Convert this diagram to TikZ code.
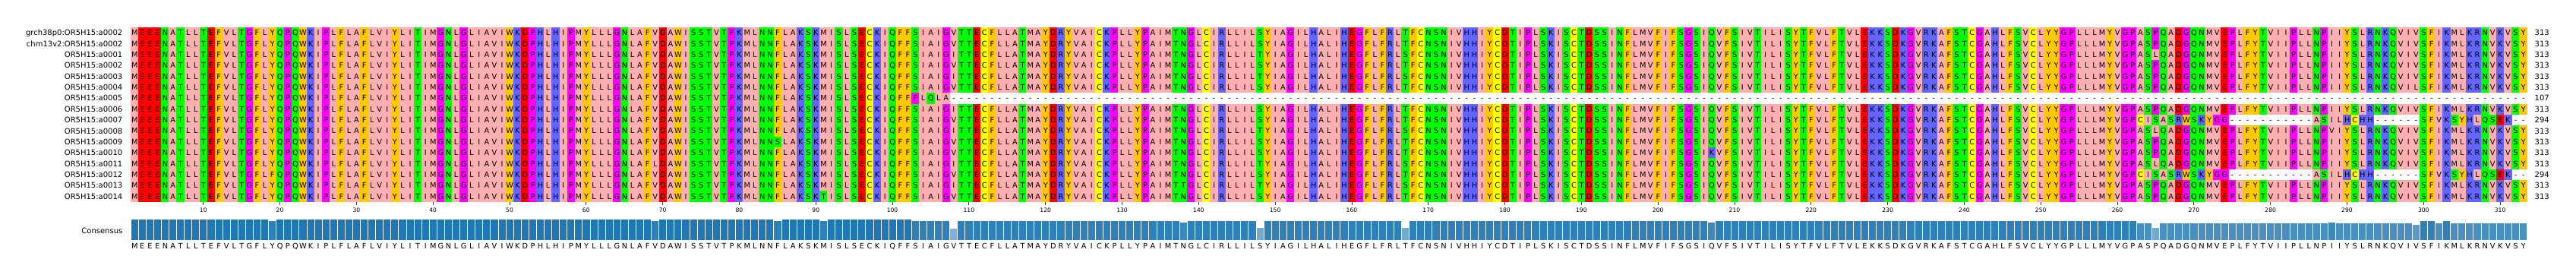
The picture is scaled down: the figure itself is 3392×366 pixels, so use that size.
\documentclass[tikz,border=0pt]{standalone}
\usepackage{fontspec}
\setmainfont{DejaVu Sans}
\usepackage{tikz}

% Zappo residue colours
\definecolor{zpAliph}{RGB}{255,175,175}
\definecolor{zpArom}{RGB}{255,200,0}
\definecolor{zpPos}{RGB}{100,100,255}
\definecolor{zpNeg}{RGB}{255,0,0}
\definecolor{zpPolar}{RGB}{0,255,0}
\definecolor{zpConf}{RGB}{255,0,255}
\definecolor{zpCys}{RGB}{255,255,0}
\definecolor{consblue}{RGB}{31,119,180}
\def\setcls#1#2{\expandafter\def\csname cls@#1\endcsname{#2}}
\setcls I{Aliph}\setcls L{Aliph}\setcls V{Aliph}\setcls A{Aliph}\setcls M{Aliph}
\setcls F{Arom}\setcls W{Arom}\setcls Y{Arom}
\setcls K{Pos}\setcls R{Pos}\setcls H{Pos}
\setcls D{Neg}\setcls E{Neg}
\setcls S{Polar}\setcls T{Polar}\setcls N{Polar}\setcls Q{Polar}
\setcls P{Conf}\setcls G{Conf}
\setcls C{Cys}
\setcls -{gap}
\def\gapcls{gap}

% grid of the alignment (px)
\def\cw{10.081}
\def\rh{14.36}
\def\xo{172}
\def\yo{36}
\newcount\colnum
\newcount\runcol
\newcount\runstart

% consensus sequence
\def\conseq{MEEENATLLT EFVLTGFLYQ PQWKIPLFLA FLVIYLITIM GNLGLIAVIW
  KDPHLHIPMY LLLGNLAFVD AWISSTVTPK MLNNFLAKSK MISLSECKIQ
  FFSIAIGVTT ECFLLATMAY DRYVAICKPL LYPAIMTNGL CIRLLILSYI
  AGILHALIHE GFLFRLTFCN SNIVHHIYCD TIPLSKISCT DSSINFLMVF
  IFSGSIQVFS IVTILISYTF VLFTVLEKKS DKGVRKAFST CGAHLFSVCL
  YYGPLLLMYV GPASPQADGQ NMVEPLFYTV IIPLLNPIIY SLRNKQVIVS
  FIKMLKRNVK VSY}

% differences to the consensus: \setrun{row}{first column}{residues}
\def\runread#1{\ifx\relax#1\else
  \expandafter\xdef\csname alt\runrow:\the\runcol\endcsname{#1}%
  \global\advance\runcol by 1
  \expandafter\runread\fi}
\newcommand\setrun[3]{\def\runrow{#1}\global\runcol=#2\relax\runread#3\relax}
\newcommand\setgap[3]{\foreach \c in {#2,...,#3}{%
  \expandafter\xdef\csname alt#1:\c\endcsname{-}}}

% residue of the current row at the current column
\newcommand\pickres[1]{%
  \ifcsname alt\rowid:\the\colnum\endcsname
    \edef\resch{\csname alt\rowid:\the\colnum\endcsname}%
  \else
    \def\resch{#1}%
  \fi}

% pass 1: background runs of one colour class
\def\readfill#1{\ifx\relax#1\else\putfill{#1}\expandafter\readfill\fi}
\newcommand\putfill[1]{%
  \global\advance\colnum by 1
  \pickres{#1}%
  \edef\thiscls{\csname cls@\resch\endcsname}%
  \ifx\thiscls\curcls\else
    \flushrun
    \global\let\curcls\thiscls
    \global\runstart=\colnum
  \fi}
\newcommand\flushrun{%
  \ifx\curcls\gapcls\else\ifx\curcls\empty\else
    \fill[zp\curcls] ({\xo+(\the\runstart-1)*\cw},\rowtop)
      rectangle ({\xo+(\the\colnum-1)*\cw+0.3},\rowtop+\rh+0.3);
  \fi\fi}

% pass 2: residue letters, one fixed-width box each
\def\readres#1{\ifx\relax#1\else\putres{#1}\expandafter\readres\fi}
\newcommand\putres[1]{%
  \global\advance\colnum by 1
  \pickres{#1}%
  \hbox to \cw pt{\hss\resch\hss}}

\newcommand\seqrow[1]{%
  \edef\rowid{#1}%
  \pgfmathsetmacro\rowtop{\yo+(#1-1)*\rh}%
  \global\colnum=0
  \global\let\curcls\empty
  \expandafter\readfill\conseq\relax
  \global\advance\colnum by 1
  \flushrun
  \node[seqtext] (row#1) at (\xo,\rowtop+\rh/2)
    {\global\colnum=0 \expandafter\readres\conseq\relax};}

% consensus letters
\def\readcons#1{\ifx\relax#1\else\hbox to \cw pt{\hss#1\hss}\expandafter\readcons\fi}

\setrun{3}{108}{I}\setrun{3}{148}{T}\setrun{3}{167}{S}\setrun{3}{265}{L}
\setrun{5}{108}{I}\setrun{5}{148}{T}\setrun{5}{167}{S}
\setrun{6}{299}{L}
\setrun{7}{103}{PLQLA}\setgap{7}{108}{313}
\setrun{8}{108}{I}
\setrun{9}{263}{CISASRWSKYGG-----------ASILHCHH------SFVKSYHLQSEK--}
\setrun{10}{108}{I}\setrun{10}{148}{T}\setrun{10}{167}{S}\setrun{10}{265}{L}\setrun{10}{288}{V}
\setrun{11}{85}{S}
\setrun{12}{207}{K}
\setrun{13}{69}{L}\setrun{13}{108}{I}\setrun{13}{148}{T}\setrun{13}{167}{S}\setrun{13}{265}{L}
\setrun{14}{19}{F}
\setrun{14}{263}{CISASRWSKYGG-----------ASILHCHH------SFVKSYHLQSEK--}
\setrun{15}{108}{I}\setrun{15}{138}{T}\setrun{15}{148}{T}\setrun{15}{167}{S}
\setrun{16}{91}{T}

\begin{document}
\begin{tikzpicture}[x=1pt, y=-1pt,
    seqtext/.style={anchor=west, inner sep=0pt, text height=7.1pt, text depth=0pt,
                    font=\fontsize{9.8}{10}\selectfont},
    seqlab/.style={anchor=east, inner sep=0pt, text height=7.3pt, text depth=0pt,
                   font=\fontsize{10}{12}\selectfont},
    lennum/.style={anchor=west, inner sep=0pt, text height=7.3pt, text depth=0pt,
                   font=\fontsize{10}{12}\selectfont},
    ticklab/.style={inner sep=0pt, font=\fontsize{7.6}{9}\selectfont},
    bar/.style={draw=white, line width=0.7pt}
  ]
    \useasboundingbox (0,0) rectangle (3392,366);

    % Sequence names
    \foreach \r/\txt in {1/grch38p0:OR5H15:a0002, 2/chm13v2:OR5H15:a0002,
        3/OR5H15:a0001, 4/OR5H15:a0002, 5/OR5H15:a0003, 6/OR5H15:a0004,
        7/OR5H15:a0005, 8/OR5H15:a0006, 9/OR5H15:a0007, 10/OR5H15:a0008,
        11/OR5H15:a0009, 12/OR5H15:a0010, 13/OR5H15:a0011, 14/OR5H15:a0012,
        15/OR5H15:a0013, 16/OR5H15:a0014}
      \node[seqlab] (lab\r) at (161.5,{\yo+(\r-0.5)*\rh}) {\txt};

    % Alignment
    \foreach \r in {1,...,16}{\seqrow{\r}}

    % Sequence lengths
    \foreach \r/\len in {1/313, 2/313, 3/313, 4/313, 5/313, 6/313, 7/107, 8/313,
        9/294, 10/313, 11/313, 12/313, 13/313, 14/294, 15/313, 16/313}
      \node[lennum] (len\r) at (3337.5,{\yo+(\r-0.5)*\rh}) {\len};

    % Position ticks
    \foreach \t in {10,20,...,310}{
      \draw[line width=0.8pt, black!75] ({\xo+(\t-0.5)*\cw},265.8) -- ++(0,4.5);
      \node[ticklab] (tick\t) at ({\xo+(\t-0.5)*\cw},276.7) {\t};
    }

    % Consensus identity bars
    \foreach \a/\b/\n in {1/18/16, 19/19/15, 20/68/16, 69/69/15, 70/84/16,
        85/85/15, 86/90/16, 91/91/15, 92/102/16, 103/107/15, 108/108/9,
        109/137/15, 138/138/14, 139/147/15, 148/148/10, 149/166/15,
        167/167/10, 168/206/15, 207/207/14, 208/262/15, 263/264/13,
        265/265/10, 266/287/13, 288/288/14, 289/298/13, 299/299/12,
        300/301/15, 302/302/13, 303/303/15, 304/313/13}{
      \pgfmathsetmacro\barmix{100*\n/16}
      \pgfmathsetmacro\bartop{316.7-28.4*\n/16}
      \foreach \c in {\a,...,\b}
        \path[bar, fill=consblue!\barmix!white]
          ({\xo+(\c-1)*\cw},\bartop) rectangle ({\xo+\c*\cw},316.7);
    }
    \node[seqlab] (conslab) at (161.5,304) {Consensus};

    % Consensus letters
    \node[seqtext] (consseq) at (\xo,324) {\expandafter\readcons\conseq\relax};
\end{tikzpicture}
\end{document}
